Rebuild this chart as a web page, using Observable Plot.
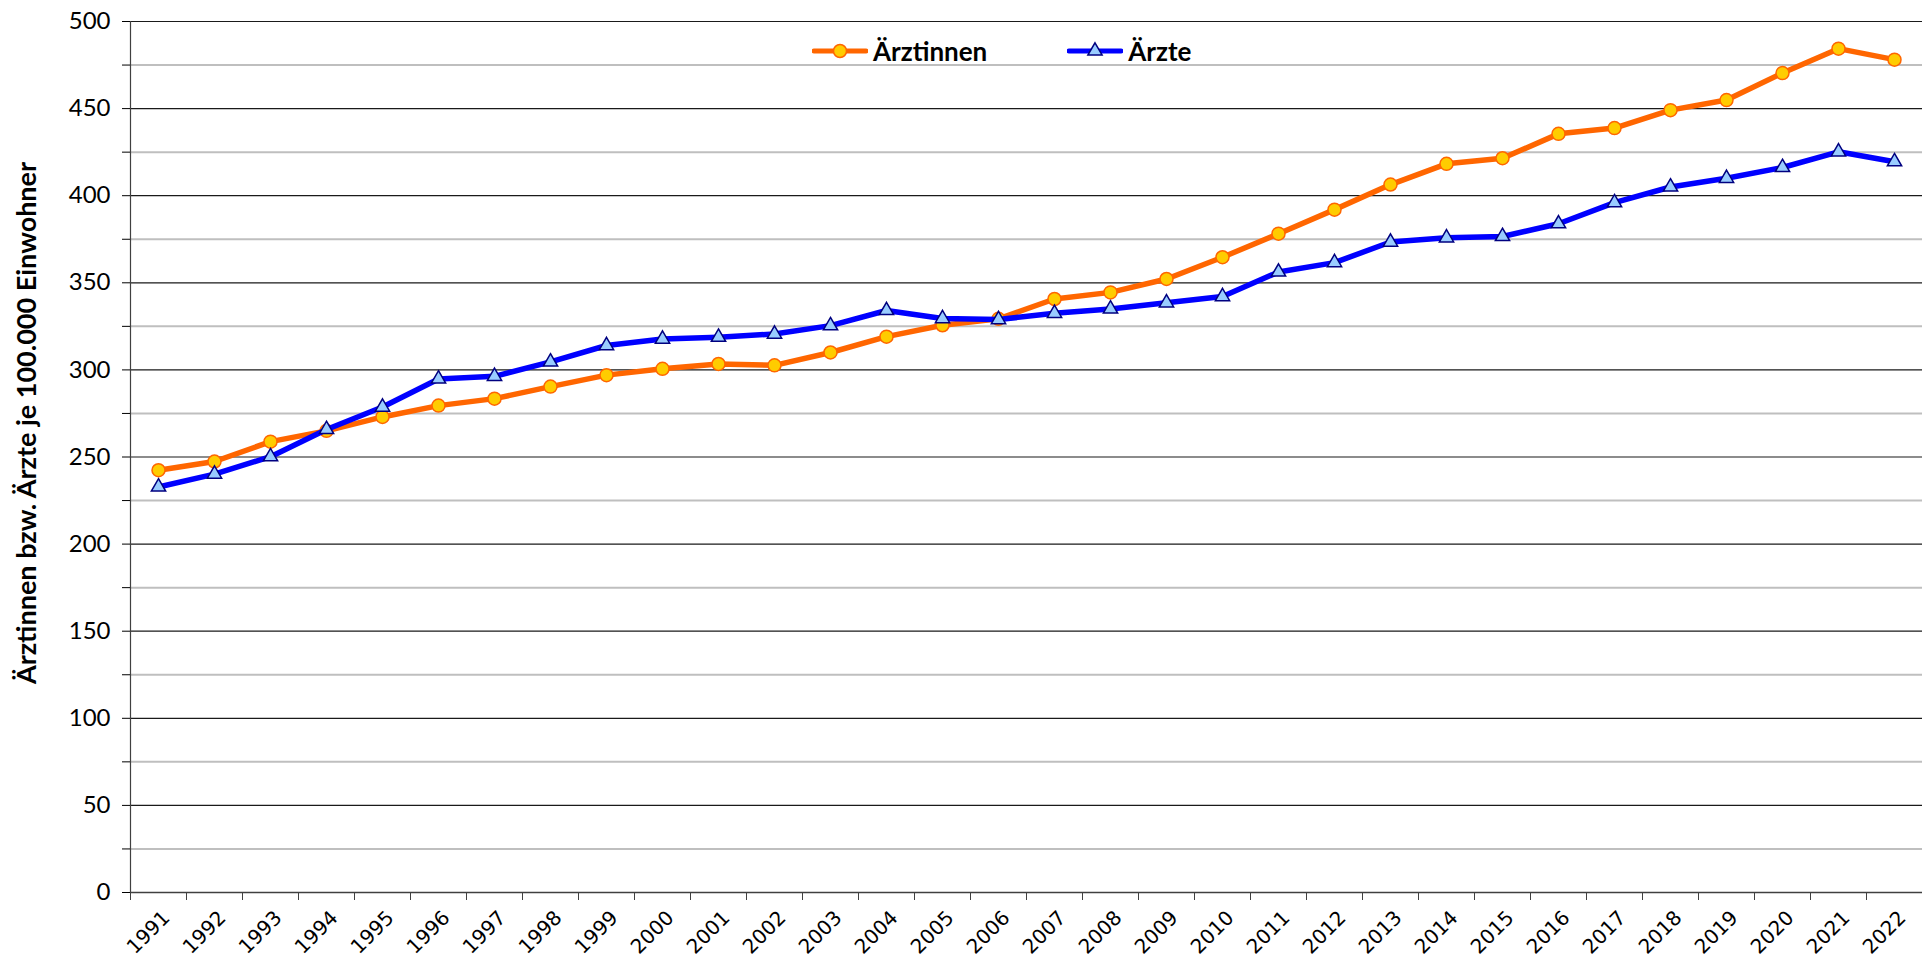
<!DOCTYPE html>
<html>
<head>
<meta charset="utf-8">
<script src="https://cdn.jsdelivr.net/npm/d3@7"></script>
<script src="https://cdn.jsdelivr.net/npm/@observablehq/plot@0.6"></script>
<style>
  html, body { margin: 0; padding: 0; background: #fff; overflow: hidden; }
  #wrap { position: relative; width: 1922px; height: 966px; }
  #wrap svg.plot { display: block; }
  #legend { position: absolute; top: 35px; left: 812px; display: flex; align-items: center; font: bold 26px Lato, sans-serif; color: #000; }
  #legend .item { display: flex; align-items: center; }
  #legend svg { display: block; margin-right: 5px; }
  #ytitle { position: absolute; left: 25px; top: 423px; transform: translate(-50%, -50%) rotate(-90deg); white-space: nowrap;
            font: bold 27px Lato, sans-serif; color: #000; }
</style>
</head>
<body>
<div id="wrap">
  <div id="legend"></div>
  <div id="ytitle"></div>
</div>
<script>
const years = [1991,1992,1993,1994,1995,1996,1997,1998,1999,2000,2001,2002,2003,2004,2005,2006,2007,2008,2009,2010,2011,2012,2013,2014,2015,2016,2017,2018,2019,2020,2021,2022];
const aerztinnen = [242.4,247.4,258.8,265.0,273.0,279.5,283.5,290.4,297.0,300.6,303.4,302.6,310.0,319.1,325.6,329.3,340.7,344.5,352.2,364.7,378.2,392.0,406.4,418.3,421.5,435.5,438.8,449.1,454.9,470.4,484.4,478.1];
const aerzte = [232.8,240.2,250.2,265.8,278.7,294.8,296.3,304.6,314.0,317.7,318.8,320.6,325.4,334.1,329.5,328.9,332.5,335.0,338.5,342.1,356.2,361.6,373.4,375.8,376.6,383.9,396.0,405.0,410.0,416.2,425.2,419.5];
const seriesNames = ["Ärztinnen", "Ärzte"];
const yTitle = "Ärztinnen bzw. Ärzte je 100.000 Einwohner";
const yTicks = d3.range(0, 501, 25);
const yMajor = yTicks.filter(d => d % 50 === 0);
const yMinor = yTicks.filter(d => d % 50 !== 0);
const xBounds = d3.range(years[0] - 0.5, years[years.length - 1] + 1, 1);

const rowsW = years.map((y, i) => ({year: y, value: aerztinnen[i]}));
const rowsM = years.map((y, i) => ({year: y, value: aerzte[i]}));

const orange = "#FF6600", orangeFill = "#FFCC00";
const blue = "#0000FF", blueFill = "#99CCFF", blueEdge = "#000080";

const chart = Plot.plot({
  width: 1922,
  height: 966,
  marginLeft: 130,
  marginRight: 0,
  marginTop: 21,
  marginBottom: 74,
  style: {background: "#fff", overflow: "visible"},
  x: {type: "linear", domain: [years[0] - 0.5, years[years.length - 1] + 0.5]},
  y: {domain: [0, 500]},
  marks: [
    Plot.ruleY(yMinor, {stroke: "#bfbfbf", strokeWidth: 2}),
    Plot.ruleY(yMajor.filter(d => d > 0), {stroke: "#1a1a1a", strokeWidth: 1.2}),
    Plot.ruleY([0], {stroke: "#404040", strokeWidth: 1.5}),
    Plot.ruleX([years[0] - 0.5], {stroke: "#404040", strokeWidth: 1.2}),
    Plot.axisY({ticks: yTicks, tickSize: 8, tickPadding: 12, tickFormat: d => d % 50 === 0 ? String(d) : "", label: null,
      fontSize: 24, fontFamily: "Lato, sans-serif", color: "#000"}),
    Plot.axisX({ticks: xBounds, tickSize: 8, tickFormat: () => "", label: null, color: "#404040"}),
    Plot.axisX({ticks: years, tickSize: 0, tickPadding: 22, dx: 8, tickRotate: -45, tickFormat: d => String(d), label: null,
      fontSize: 20, fontFamily: "DejaVu Sans, sans-serif", color: "#000"}),
    Plot.line(rowsW, {x: "year", y: "value", stroke: orange, strokeWidth: 5.5, strokeLinejoin: "round"}),
    Plot.dot(rowsW, {x: "year", y: "value", r: 6.5, fill: orangeFill, stroke: orange, strokeWidth: 1.5}),
    Plot.line(rowsM, {x: "year", y: "value", stroke: blue, strokeWidth: 5.5, strokeLinejoin: "round"}),
    Plot.dot(rowsM, {x: "year", y: "value", symbol: "triangle", r: 5.3, fill: blueFill, stroke: blueEdge, strokeWidth: 1.5})
  ]
});
chart.classList.add("plot");
document.getElementById("wrap").appendChild(chart);
document.getElementById("ytitle").textContent = yTitle;

// Legend
const legend = d3.select("#legend");
const items = [
  {name: seriesNames[0], stroke: orange, fill: orangeFill, edge: orange, symbol: "circle", gap: 0},
  {name: seriesNames[1], stroke: blue, fill: blueFill, edge: blueEdge, symbol: "triangle", gap: 80}
];
for (const it of items) {
  const item = legend.append("div").attr("class", "item").style("margin-left", it.gap + "px");
  const svg = item.append("svg").attr("width", 56).attr("height", 20);
  svg.append("line").attr("x1", 2).attr("x2", 54).attr("y1", 10).attr("y2", 10)
    .attr("stroke", it.stroke).attr("stroke-width", 5).attr("stroke-linecap", "round");
  if (it.symbol === "circle") {
    svg.append("circle").attr("cx", 28).attr("cy", 10).attr("r", 6.5).attr("fill", it.fill).attr("stroke", it.edge).attr("stroke-width", 1.5);
  } else {
    svg.append("path").attr("transform", "translate(28,10)").attr("d", d3.symbol(d3.symbolTriangle, Math.PI * 28)())
      .attr("fill", it.fill).attr("stroke", it.edge).attr("stroke-width", 1.5);
  }
  item.append("span").text(it.name);
}
</script>
</body>
</html>
